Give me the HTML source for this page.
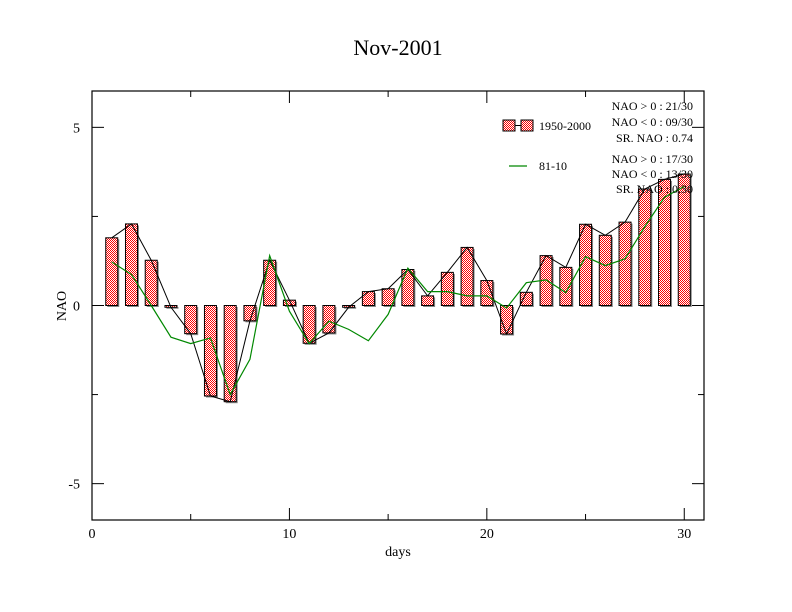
<!DOCTYPE html>
<html><head><meta charset="utf-8"><style>
html,body{margin:0;padding:0;background:#fff;}
svg{display:block;font-family:"Liberation Serif",serif;}
</style></head><body>
<svg id="chart" width="792" height="612" viewBox="0 0 792 612" xmlns="http://www.w3.org/2000/svg">
<defs>
<pattern id="chk" width="2" height="2" patternUnits="userSpaceOnUse">
<rect width="2" height="2" fill="#fff"/><rect width="1" height="1" fill="#f00"/><rect x="1" y="1" width="1" height="1" fill="#f00"/>
</pattern>
</defs>
<text x="398" y="55" font-size="22" text-anchor="middle">Nov-2001</text>
<g id="plot"></g>
<rect x="92" y="91" width="612" height="429" fill="none" stroke="#000" stroke-width="1.2"/>
<text x="398" y="556" font-size="14" text-anchor="middle">days</text>
<text x="66" y="306" font-size="14" text-anchor="middle" transform="rotate(-90 66 306)">NAO</text>
<g>
<rect x="503" y="120" width="12" height="11" fill="url(#chk)" stroke="#000"/>
<line x1="515" y1="125.5" x2="521" y2="125.5" stroke="#000"/>
<rect x="521" y="120" width="12" height="11" fill="url(#chk)" stroke="#000"/>
<text x="539" y="130" font-size="12">1950-2000</text>
<line x1="509" y1="166" x2="527" y2="166" stroke="#080" stroke-width="1.2"/>
<text x="539" y="170" font-size="12">81-10</text>
</g>
<g font-size="12" text-anchor="end">
<text x="693" y="110">NAO &gt; 0 : 21/30</text>
<text x="693" y="126">NAO &lt; 0 : 09/30</text>
<text x="693" y="142">SR. NAO :  0.74</text>
<text x="693" y="163">NAO &gt; 0 : 17/30</text>
<text x="693" y="178">NAO &lt; 0 : 13/30</text>
<text x="693" y="193">SR. NAO :  0.30</text>
</g>
</svg>
<script>
const days=[1,2,3,4,5,6,7,8,9,10,11,12,13,14,15,16,17,18,19,20,21,22,23,24,25,26,27,28,29,30];
const nao5000=[1.9,2.29,1.27,-0.05,-0.79,-2.54,-2.7,-0.43,1.27,0.15,-1.06,-0.77,-0.05,0.39,0.47,1.01,0.27,0.93,1.63,0.7,-0.8,0.37,1.4,1.07,2.28,1.97,2.34,3.27,3.54,3.69];
const nao8110=[1.22,0.87,0,-0.89,-1.07,-0.91,-2.5,-1.51,1.4,-0.16,-1.07,-0.44,-0.67,-0.99,-0.25,1.05,0.39,0.39,0.27,0.27,-0.07,0.64,0.72,0.36,1.37,1.12,1.31,2.21,3.04,3.34];
const xTicks=[0,10,20,30];
const yTicks=[-5,0,5];
const X0=92,X1=704,Y0=520,Y1=91,XMIN=0,XMAX=31,YMIN=-6.02,YMAX=6.02;
const sx=v=>X0+(v-XMIN)/(XMAX-XMIN)*(X1-X0);
const sy=v=>Y0-(v-YMIN)/(YMAX-YMIN)*(Y0-Y1);
const NS='http://www.w3.org/2000/svg';
const g=document.getElementById('plot');
function mk(t,a,p){const e=document.createElementNS(NS,t);for(const k in a)e.setAttribute(k,a[k]);(p||g).appendChild(e);return e;}
// ticks
for(let v=0;v<=30;v+=5){const L=v%10===0?12:6;
 let t=mk('line',{x1:sx(v),y1:Y0,x2:sx(v),y2:Y0-L,stroke:'#000'});
 
 
 t=mk('line',{x1:sx(v),y1:Y1,x2:sx(v),y2:Y1+L,stroke:'#000'});
 
 }
for(let v=-5;v<=5;v+=2.5){const L=v%5===0?12:6;
 let t=mk('line',{x1:X0,y1:sy(v),x2:X0+L,y2:sy(v),stroke:'#000'});
 
 
 t=mk('line',{x1:X1,y1:sy(v),x2:X1-L,y2:sy(v),stroke:'#000'});
 
 }
xTicks.forEach(v=>{const t=mk('text',{x:sx(v),y:538,'font-size':14,'text-anchor':'middle'});t.textContent=v;
 
 });
yTicks.forEach(v=>{const t=mk('text',{x:80,y:sy(v)+5,'font-size':14,'text-anchor':'end'});t.textContent=v;
 
 });
// bars
const bw=12;
days.forEach((d,i)=>{const v=nao5000[i];const y=Math.min(sy(v),sy(0));const h=Math.max(Math.abs(sy(v)-sy(0)),1.5);
 const s=mk('rect',{x:sx(d)-bw/2+1.5,y:y+1.5,width:bw,height:h,fill:'#888'});
 
 
 const b=mk('rect',{x:sx(d)-bw/2,y:y,width:bw,height:h,fill:'url(#chk)',stroke:'#000','stroke-width':1});
 
 });
const l1=mk('polyline',{points:days.map((d,i)=>sx(d)+','+sy(nao5000[i])).join(' '),fill:'none',stroke:'#000','stroke-width':1});


const l2=mk('polyline',{points:days.map((d,i)=>sx(d)+','+sy(nao8110[i])).join(' '),fill:'none',stroke:'#080','stroke-width':1.2});


</script>
</body></html>
